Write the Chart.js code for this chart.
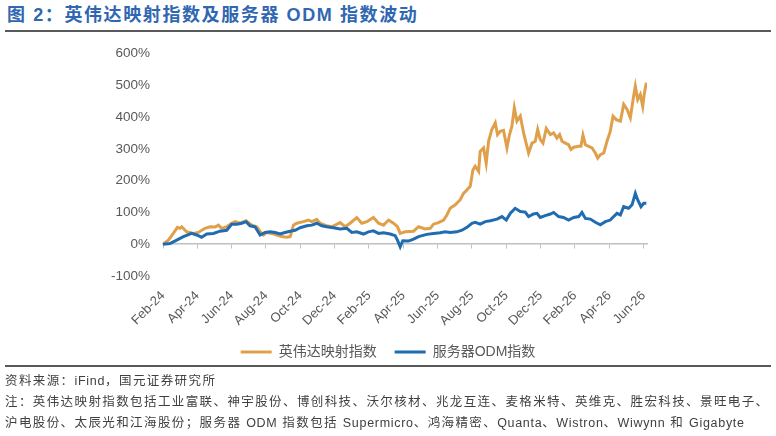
<!DOCTYPE html>
<html>
<head>
<meta charset="utf-8">
<script src="https://cdn.jsdelivr.net/npm/chart.js@4.4.1/dist/chart.umd.min.js"></script>
<style>
body { margin: 0; background: #fff; width: 776px; height: 436px; overflow: hidden; position: relative;
       font-family: "Liberation Sans", "Noto Sans CJK SC", sans-serif; }
#title { position: absolute; left: 7px; top: 5px; line-height: 20px; font-size: 18px; font-weight: bold;
         color: #3167b1; letter-spacing: 1.6px; white-space: nowrap; }
.rule { position: absolute; left: 5px; width: 766px; background: #595959; }
#notes { position: absolute; left: 5px; top: 371px; font-size: 12.5px; line-height: 21px; color: #404040;
         letter-spacing: 1.4px; white-space: nowrap; }
#notes span { letter-spacing: 0.7px; }
#chart { position: absolute; left: 0; top: 31px; }
</style>
</head>
<body>
<div id="title">图 2：英伟达映射指数及服务器 ODM 指数波动</div>
<canvas id="chart" width="776" height="338"></canvas>
<div class="rule" style="top:30px;height:2px"></div>
<div class="rule" style="top:365px;height:1.5px"></div>
<div id="notes">
  <div>资料来源：<span>iFind</span>，国元证券研究所</div>
  <div>注：英伟达映射指数包括工业富联、神宇股份、博创科技、沃尔核材、兆龙互连、麦格米特、英维克、胜宏科技、景旺电子、</div>
  <div>沪电股份、太辰光和江海股份；服务器 <span>ODM</span> 指数包括 <span>Supermicro</span>、鸿海精密、<span>Quanta</span>、<span>Wistron</span>、<span>Wiwynn</span> 和 <span>Gigabyte</span></div>
</div>
<script>
// x values are months counted from Feb-24
const tickLabels = ['Feb-24', 'Apr-24', 'Jun-24', 'Aug-24', 'Oct-24', 'Dec-24', 'Feb-25', 'Apr-25',
    'Jun-25', 'Aug-25', 'Oct-25', 'Dec-25', 'Feb-26', 'Apr-26', 'Jun-26'];

const nvMonths = [0.00, 0.31, 0.60, 0.84, 0.99, 1.09, 1.38, 1.77, 2.06, 2.45,
    2.74, 3.03, 3.23, 3.42, 3.71, 4.00, 4.20, 4.49, 4.84, 5.17,
    5.46, 5.66, 5.85, 6.04, 6.34, 6.63, 6.92, 7.21, 7.41, 7.60,
    7.79, 8.18, 8.47, 8.67, 8.96, 9.15, 9.54, 9.83, 10.32, 10.61,
    10.90, 11.29, 11.58, 11.88, 12.26, 12.56, 12.85, 13.14, 13.43, 13.66,
    13.82, 14.11, 14.60, 14.89, 15.28, 15.57, 15.76, 16.05, 16.35, 16.54,
    16.73, 17.03, 17.32, 17.51, 17.71, 17.90, 18.06, 18.19, 18.39, 18.48,
    18.68, 18.83, 18.97, 19.16, 19.36, 19.49, 19.65, 19.84, 20.04, 20.19,
    20.33, 20.47, 20.62, 20.82, 21.01, 21.30, 21.50, 21.69, 21.83, 21.98,
    22.14, 22.33, 22.57, 22.76, 22.95, 23.11, 23.25, 23.44, 23.63, 23.77,
    23.93, 24.22, 24.35, 24.47, 24.61, 24.80, 25.00, 25.19, 25.33, 25.48,
    25.68, 25.87, 26.06, 26.22, 26.41, 26.65, 26.84, 27.04, 27.23, 27.39,
    27.52, 27.66, 27.81, 27.95, 28.05, 28.16];
const nvValues = [0, 13, 34, 53, 50, 55, 39, 34, 37, 50,
    55, 54, 60, 50, 55, 66, 71, 66, 74, 60,
    55, 40, 29, 37, 34, 29, 24, 22, 24, 60,
    66, 71, 76, 71, 78, 66, 58, 55, 68, 55,
    66, 84, 66, 71, 84, 66, 60, 76, 66, 55,
    34, 39, 41, 55, 48, 50, 63, 68, 76, 92,
    113, 124, 140, 160, 171, 182, 234, 245, 229, 292,
    303, 255, 324, 361, 382, 345, 355, 358, 303, 345,
    371, 429, 387, 403, 350, 287, 318, 324, 361, 329,
    318, 364, 345, 350, 334, 345, 324, 318, 313, 298,
    305, 308, 308, 343, 313, 308, 303, 287, 271, 282,
    287, 324, 355, 403, 392, 387, 440, 424, 398, 455,
    497, 455, 471, 434, 476, 508];

const odmMonths = [0.00, 0.41, 0.80, 1.19, 1.67, 1.96, 2.25, 2.55, 2.94, 3.32,
    3.71, 4.00, 4.30, 4.59, 4.84, 5.07, 5.36, 5.66, 5.95, 6.24,
    6.53, 6.82, 7.11, 7.41, 7.70, 7.99, 8.38, 8.67, 8.96, 9.25,
    9.54, 9.93, 10.32, 10.71, 11.00, 11.29, 11.68, 11.97, 12.26, 12.56,
    12.85, 13.24, 13.53, 13.66, 13.82, 13.97, 14.30, 14.60, 14.89, 15.37,
    15.76, 16.15, 16.44, 16.73, 17.12, 17.42, 17.71, 18.00, 18.19, 18.48,
    18.78, 19.07, 19.46, 19.75, 20.00, 20.23, 20.52, 20.82, 21.11, 21.30,
    21.59, 21.79, 21.98, 22.27, 22.57, 22.76, 23.05, 23.34, 23.63, 23.93,
    24.22, 24.41, 24.61, 24.90, 25.19, 25.48, 25.77, 26.06, 26.26, 26.45,
    26.65, 26.84, 27.13, 27.33, 27.52, 27.66, 27.85, 28.01, 28.16];
const odmValues = [0, 2, 13, 24, 34, 29, 22, 32, 34, 41,
    44, 63, 63, 66, 71, 58, 55, 29, 37, 39,
    37, 32, 37, 41, 44, 52, 58, 60, 66, 58,
    55, 52, 48, 50, 37, 39, 32, 39, 42, 34,
    36, 32, 27, 13, -8, 11, 10, 16, 24, 31,
    34, 36, 39, 37, 39, 44, 53, 66, 69, 63,
    71, 74, 79, 87, 76, 97, 113, 103, 101, 87,
    95, 97, 84, 90, 95, 100, 87, 84, 76, 84,
    87, 100, 81, 79, 69, 61, 71, 76, 87, 97,
    92, 118, 113, 124, 160, 139, 118, 129, 129];

const toPoints = (xs, ys) => xs.map((x, i) => ({ x: x, y: ys[i] }));
const font = '"Liberation Sans", "Noto Sans CJK SC", sans-serif';
const labelColor = '#595959';
const axisColor = '#bfbfbf';

const ctx = document.getElementById('chart').getContext('2d');
const chart = new Chart(ctx, {
    type: 'line',
    data: {
        datasets: [{
            label: '英伟达映射指数',
            data: toPoints(nvMonths, nvValues),
            borderColor: '#e0a04b',
            backgroundColor: '#e0a04b',
            borderWidth: 3,
            pointRadius: 0,
            tension: 0,
            order: 2
        }, {
            label: '服务器ODM指数',
            data: toPoints(odmMonths, odmValues),
            borderColor: '#1f6cb0',
            backgroundColor: '#1f6cb0',
            borderWidth: 3,
            pointRadius: 0,
            tension: 0,
            order: 1
        }]
    },
    options: {
        responsive: false,
        animation: false,
        layout: { padding: { left: 0, right: 0, top: 22.5, bottom: 0 } },
        plugins: {
            tooltip: { enabled: false },
            legend: {
                position: 'bottom',
                labels: {
                    usePointStyle: true,
                    pointStyle: 'line',
                    pointStyleWidth: 31,
                    padding: 18,
                    color: labelColor,
                    font: { family: font, size: 14 },
                    sort: (a, b) => a.datasetIndex - b.datasetIndex
                }
            }
        },
        scales: {
            x: {
                type: 'linear',
                min: 0,
                max: 28.2,
                afterFit: s => { s.height = 51; },
                grid: { display: false },
                border: { display: false },
                ticks: {
                    stepSize: 2,
                    includeBounds: false,
                    minRotation: 45,
                    maxRotation: 45,
                    padding: 4,
                    color: labelColor,
                    font: { family: font, size: 13 },
                    callback: v => tickLabels[Math.round(v / 2)]
                }
            },
            zero: {
                type: 'linear',
                axis: 'x',
                position: { y: 0 },
                min: 0,
                max: 28.2,
                grid: { display: true, drawOnChartArea: false, drawTicks: true, tickLength: 4, color: axisColor },
                border: { display: true, color: axisColor, width: 1.5 },
                ticks: { display: false, stepSize: 2, includeBounds: false }
            },
            y: {
                min: -100,
                max: 600,
                afterFit: s => { s.width = 163; },
                grid: { display: false, drawTicks: false },
                border: { display: false },
                ticks: {
                    stepSize: 100,
                    padding: 13,
                    color: labelColor,
                    font: { family: font, size: 13.5 },
                    callback: v => v + '%'
                }
            },
            // empty right-hand strip, keeps the plot narrow while the legend stays centred
            spacer: {
                type: 'linear',
                axis: 'y',
                position: 'right',
                afterFit: s => { s.width = 129; },
                grid: { display: false, drawTicks: false },
                border: { display: false },
                ticks: { display: false }
            }
        }
    }
});
</script>
</body>
</html>
